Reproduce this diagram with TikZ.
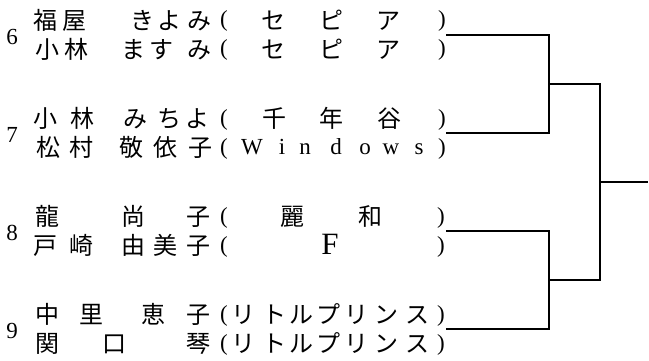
\documentclass[tikz,border=0pt]{standalone}
\usepackage{fontspec}
\setmainfont{Liberation Serif}
\newfontfamily\cjk{Noto Sans CJK JP}
\begin{document}
\begin{tikzpicture}[x=1pt,y=-1pt,
  jp/.style={font=\cjk\fontsize{24}{24}\selectfont, inner sep=0pt, anchor=base},
  lt/.style={font=\fontsize{23}{23}\selectfont, inner sep=0pt, anchor=base},
  big/.style={font=\fontsize{31}{31}\selectfont, inner sep=0pt, anchor=base},
  br/.style={line width=2.7pt, line join=miter}]
\useasboundingbox (0,0) rectangle (649,361);
% seed numbers
\node[lt] (n6) at (12,44.5) {6};
\node[lt] (n7) at (12,142.5) {7};
\node[lt] (n8) at (12,240.5) {8};
\node[lt] (n9) at (12,338.5) {9};
% row 1
\foreach \x/\c [count=\i] in {46/福,74/屋,142/き,169/よ,199/み,273/セ,331/ピ,388/ア}
  \node[jp] (ra\i) at (\x,29.5) {\c};
\node[lt] (pa1) at (224,27) {(}; \node[lt] (pa2) at (442,27) {)};
% row 2
\foreach \x/\c [count=\i] in {47/小,76/林,133/ま,161/す,199/み,273/セ,331/ピ,388/ア}
  \node[jp] (rb\i) at (\x,58.5) {\c};
\node[lt] (pb1) at (224,56) {(}; \node[lt] (pb2) at (442,56) {)};
% row 3
\foreach \x/\c [count=\i] in {46/小,82/林,135/み,169/ち,197/よ,274/千,331/年,389/谷}
  \node[jp] (rc\i) at (\x,127.5) {\c};
\node[lt] (pc1) at (224,125) {(}; \node[lt] (pc2) at (442,125) {)};
% row 4
\foreach \x/\c [count=\i] in {48/松,81/村,131/敬,165/依,200/子}
  \node[jp] (rd\i) at (\x,156.5) {\c};
\foreach \x/\c [count=\i] in {252/W,282/i,305/n,336/d,365/o,391/w,419/s}
  \node[lt] (wd\i) at (\x,154) {\c};
\node[lt] (pd1) at (224,154) {(}; \node[lt] (pd2) at (442,154) {)};
% row 5
\foreach \x/\c [count=\i] in {47/龍,133/尚,198/子,292/麗,370/和}
  \node[jp] (re\i) at (\x,225.5) {\c};
\node[lt] (pe1) at (224,223) {(}; \node[lt] (pe2) at (441,223) {)};
% row 6
\foreach \x/\c [count=\i] in {45/戸,81/崎,133/由,165/美,198/子}
  \node[jp] (rf\i) at (\x,254.5) {\c};
\node[big] (ff) at (330,254) {F};
\node[lt] (pf1) at (224,252) {(}; \node[lt] (pf2) at (441,252) {)};
% row 7
\foreach \x/\c [count=\i] in {47/中,91/里,153/恵,198/子,243/リ,274/ト,301/ル,328/プ,356/リ,386/ン,417/ス}
  \node[jp] (rg\i) at (\x,323.5) {\c};
\node[lt] (pg1) at (224,321) {(}; \node[lt] (pg2) at (441,321) {)};
% row 8
\foreach \x/\c [count=\i] in {47/関,114/口,198/琴,243/リ,274/ト,301/ル,328/プ,356/リ,386/ン,417/ス}
  \node[jp] (rh\i) at (\x,352.5) {\c};
\node[lt] (ph1) at (224,350) {(}; \node[lt] (ph2) at (441,350) {)};
% bracket
\coordinate (a1) at (446,35);
\coordinate (a2) at (446,133);
\coordinate (a3) at (446,231);
\coordinate (a4) at (446,329);
\coordinate (m1) at (549,84);
\coordinate (m2) at (549,280);
\coordinate (f) at (600,182);
\coordinate (e) at (648,182);
\draw[br] (a1) -| (m1) |- (a2);
\draw[br] (a3) -| (m2) |- (a4);
\draw[br] (m1) -| (f) |- (m2);
\draw[br] (f) -- (e);
\end{tikzpicture}
\end{document}
